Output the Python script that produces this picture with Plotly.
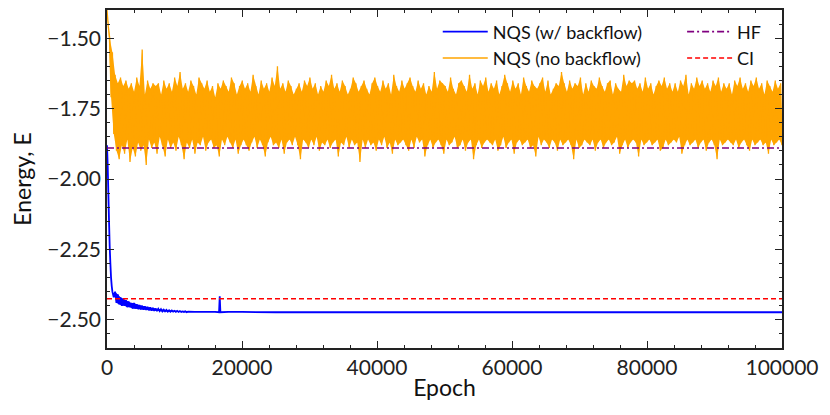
import numpy as np
import plotly.graph_objects as go

# ---------------- data ----------------
orange_energy = [
    -1.40, -1.46, -1.50, -1.71, -1.55, -1.84, -1.63, -1.90, -1.66, -1.93,
    -1.64, -1.88, -1.67, -1.91, -1.65, -1.86, -1.68, -1.94, -1.66, -1.89,
    -1.69, -1.92, -1.64, -1.87, -1.67, -1.90, -1.54, -1.88, -1.70, -1.95,
    -1.65, -1.86, -1.68, -1.89, -1.66, -1.87, -1.67, -1.91, -1.66, -1.85,
    -1.70, -1.88, -1.65, -1.92, -1.68, -1.86, -1.66, -1.89, -1.69, -1.87,
    -1.64, -1.90, -1.67, -1.85, -1.62, -1.88, -1.68, -1.93, -1.66, -1.87,
    -1.69, -1.89, -1.65, -1.86, -1.67, -1.91, -1.70, -1.87, -1.64, -1.88,
    -1.66, -1.85, -1.68, -1.90, -1.65, -1.87, -1.69, -1.86, -1.67, -1.89,
    -1.71, -1.88, -1.66, -1.92, -1.68, -1.86, -1.65, -1.88, -1.67, -1.85,
    -1.69, -1.87, -1.64, -1.89, -1.66, -1.86, -1.70, -1.91, -1.67, -1.88,
    -1.65, -1.86, -1.68, -1.88, -1.66, -1.90, -1.69, -1.87, -1.63, -1.85,
    -1.67, -1.89, -1.70, -1.86, -1.65, -1.88, -1.68, -1.92, -1.66, -1.87,
    -1.69, -1.85, -1.64, -1.88, -1.67, -1.87, -1.60, -1.89, -1.68, -1.86,
    -1.66, -1.91, -1.69, -1.87, -1.65, -1.86, -1.67, -1.88, -1.70, -1.85,
    -1.68, -1.88, -1.66, -1.93, -1.69, -1.86, -1.65, -1.87, -1.67, -1.89,
    -1.64, -1.86, -1.68, -1.88, -1.66, -1.85, -1.70, -1.90, -1.67, -1.87,
    -1.69, -1.88, -1.65, -1.86, -1.67, -1.89, -1.63, -1.87, -1.68, -1.86,
    -1.66, -1.92, -1.69, -1.87, -1.65, -1.88, -1.67, -1.85, -1.70, -1.89,
    -1.68, -1.86, -1.64, -1.88, -1.66, -1.87, -1.69, -1.94, -1.67, -1.86,
    -1.65, -1.89, -1.68, -1.86, -1.70, -1.88, -1.66, -1.87, -1.64, -1.90,
    -1.67, -1.86, -1.69, -1.88, -1.65, -1.85, -1.68, -1.89, -1.66, -1.87,
    -1.70, -1.91, -1.63, -1.86, -1.67, -1.88, -1.69, -1.87, -1.65, -1.86,
    -1.68, -1.88, -1.66, -1.90, -1.64, -1.86, -1.67, -1.89, -1.69, -1.85,
    -1.65, -1.87, -1.68, -1.86, -1.66, -1.92, -1.70, -1.88, -1.67, -1.86,
    -1.69, -1.89, -1.62, -1.87, -1.68, -1.86, -1.65, -1.88, -1.66, -1.91,
    -1.67, -1.86, -1.69, -1.88, -1.64, -1.87, -1.68, -1.85, -1.70, -1.89,
    -1.66, -1.88, -1.65, -1.86, -1.67, -1.90, -1.69, -1.87, -1.63, -1.86,
    -1.68, -1.93, -1.66, -1.88, -1.70, -1.86, -1.65, -1.89, -1.67, -1.87,
    -1.64, -1.86, -1.69, -1.87, -1.66, -1.88, -1.68, -1.86, -1.65, -1.90,
    -1.70, -1.88, -1.67, -1.85, -1.63, -1.89, -1.66, -1.87, -1.69, -1.86,
    -1.65, -1.91, -1.68, -1.87, -1.66, -1.86, -1.70, -1.88, -1.64, -1.87,
    -1.67, -1.86, -1.69, -1.89, -1.65, -1.88, -1.67, -1.92, -1.68, -1.85,
    -1.66, -1.88, -1.64, -1.86, -1.69, -1.87, -1.65, -1.89, -1.70, -1.86,
    -1.68, -1.87, -1.66, -1.90, -1.67, -1.86, -1.62, -1.88, -1.66, -1.87,
    -1.69, -1.86, -1.65, -1.88, -1.68, -1.93, -1.66, -1.86, -1.67, -1.89,
    -1.64, -1.88, -1.70, -1.86, -1.66, -1.87, -1.69, -1.88, -1.65, -1.86,
    -1.67, -1.90, -1.68, -1.87, -1.64, -1.86, -1.67, -1.89, -1.69, -1.87,
    -1.66, -1.86, -1.65, -1.88, -1.70, -1.87, -1.66, -1.85, -1.68, -1.91,
    -1.69, -1.88, -1.63, -1.86, -1.67, -1.89, -1.65, -1.87, -1.66, -1.86,
    -1.65, -1.87, -1.68, -1.92, -1.66, -1.86, -1.69, -1.88, -1.64, -1.87,
    -1.68, -1.86, -1.66, -1.88, -1.70, -1.87, -1.67, -1.86, -1.65, -1.90,
    -1.67, -1.89, -1.64, -1.86, -1.68, -1.88, -1.66, -1.87, -1.69, -1.86,
    -1.66, -1.87, -1.69, -1.85, -1.65, -1.91, -1.67, -1.88, -1.63, -1.86,
    -1.70, -1.88, -1.66, -1.87, -1.68, -1.86, -1.64, -1.89, -1.67, -1.87,
    -1.65, -1.86, -1.68, -1.90, -1.66, -1.87, -1.69, -1.86, -1.65, -1.88,
    -1.67, -1.93, -1.64, -1.86, -1.69, -1.88, -1.66, -1.87, -1.68, -1.86,
    -1.66, -1.87, -1.70, -1.88, -1.65, -1.86, -1.67, -1.89, -1.64, -1.87,
    -1.68, -1.86, -1.66, -1.88, -1.69, -1.90, -1.65, -1.86, -1.67, -1.88,
    -1.64, -1.87, -1.68, -1.86, -1.66, -1.88, -1.70, -1.87, -1.65, -1.91,
    -1.67, -1.86, -1.69, -1.88, -1.65, -1.87, -1.68, -1.86, -1.66, -1.88,
]

blue_epoch = [
    0, 100, 200, 300, 400, 500, 600, 700, 800, 900, 1000,
    1200, 1400, 1600, 1800, 2000, 2200, 2400, 2600, 2800, 3000,
    3200, 3400, 3600, 3800, 4000, 4200, 4400, 4600, 4800, 5000,
    5200, 5400, 5600, 5800, 6000, 6200, 6400, 6600, 6800, 7000,
    7200, 7400, 7600, 7800, 8000, 8200, 8400, 8600, 8800, 9000,
    9200, 9400, 9600, 9800, 10000, 10200, 10400, 10600, 10800, 11000,
    11200, 11400, 11600, 11800, 12000,
    13000, 14000, 15000, 16000, 16600, 16700, 16800, 18000, 20000,
    25000, 30000, 40000, 50000, 60000, 70000, 80000, 90000, 100000,
]
blue_energy = [
    -1.88, -1.95, -2.05, -2.15, -2.24, -2.30, -2.35, -2.38, -2.40, -2.41, -2.42,
    -2.40, -2.44, -2.41, -2.445, -2.42, -2.45, -2.425, -2.45, -2.43, -2.455,
    -2.435, -2.455, -2.44, -2.46, -2.44, -2.46, -2.445, -2.462, -2.447, -2.463,
    -2.45, -2.464, -2.452, -2.465, -2.454, -2.466, -2.456, -2.467, -2.458, -2.468,
    -2.46, -2.469, -2.461, -2.469, -2.462, -2.47, -2.464, -2.47, -2.465, -2.471,
    -2.466, -2.471, -2.467, -2.471, -2.468, -2.472, -2.468, -2.472, -2.469, -2.472,
    -2.47, -2.472, -2.47, -2.473, -2.471,
    -2.472, -2.472, -2.472, -2.472, -2.473, -2.416, -2.473, -2.472, -2.472,
    -2.473, -2.473, -2.473, -2.473, -2.473, -2.473, -2.473, -2.473, -2.473,
]

hf_energy = -1.890
ci_energy = -2.425
epoch_range = [0, 100000]

series_names = ["NQS (w/ backflow)", "NQS (no backflow)", "HF", "CI"]
y_tick_vals = [-2.50, -2.25, -2.00, -1.75, -1.50]
x_tick_vals = [0, 20000, 40000, 60000, 80000, 100000]

# ---------------- figure ----------------
orange_epoch = list(np.linspace(epoch_range[0], epoch_range[1], len(orange_energy)))


def oscillation_band(xs, ys, start, stop):
    """Polygon between the successive highs and lows of a rapidly
    oscillating stretch of a trace (indices start..stop-1)."""
    hx, hy = xs[start:stop:2], ys[start:stop:2]
    lx, ly = xs[start + 1:stop:2], ys[start + 1:stop:2]
    return list(hx) + list(lx)[::-1], list(hy) + list(ly)[::-1]


o_band_x, o_band_y = oscillation_band(orange_epoch, orange_energy, 0, len(orange_energy))
b_band_x, b_band_y = oscillation_band(blue_epoch, blue_energy, 11, 66)

SANS = "Lato"
ORANGE = "#ffa500"
BLUE = "#0000ff"

fig = go.Figure()
fig.add_trace(go.Scatter(
    x=b_band_x, y=b_band_y, mode="lines", fill="toself", fillcolor=BLUE,
    line=dict(width=0, color=BLUE), showlegend=False, hoverinfo="skip",
))
fig.add_trace(go.Scatter(
    x=blue_epoch, y=blue_energy, mode="lines", name=series_names[0],
    line=dict(color=BLUE, width=1.8, simplify=False), legend="legend",
))
fig.add_trace(go.Scatter(
    x=o_band_x, y=o_band_y, mode="lines", fill="toself", fillcolor=ORANGE,
    line=dict(width=0, color=ORANGE), showlegend=False, hoverinfo="skip",
))
fig.add_trace(go.Scatter(
    x=orange_epoch, y=orange_energy, mode="lines", name=series_names[1],
    line=dict(color=ORANGE, width=1.3, simplify=False), legend="legend",
))
fig.add_trace(go.Scatter(
    x=epoch_range, y=[hf_energy, hf_energy], mode="lines", name=series_names[2],
    line=dict(color="#800080", width=1.6, dash="7px,3px,2px,3px"), legend="legend2",
))
fig.add_trace(go.Scatter(
    x=epoch_range, y=[ci_energy, ci_energy], mode="lines", name=series_names[3],
    line=dict(color="#ff0000", width=1.6, dash="5px,3px"), legend="legend2",
))

axis_common = dict(
    showgrid=False, zeroline=False, showline=True, linecolor="#222222",
    linewidth=1.6, mirror="allticks", ticks="inside", ticklen=7, tickwidth=1,
    tickcolor="#222222",
    tickfont=dict(family=SANS, size=21, color="#222222"),
)

fig.update_xaxes(
    range=epoch_range, tickvals=x_tick_vals, tickformat="d",
    minor=dict(dtick=4000, tick0=0, ticks="inside", ticklen=3.5, tickwidth=1,
               tickcolor="#222222"),
    title=dict(text="Epoch", font=dict(family=SANS, size=23, color="#111111"),
               standoff=2),
    **axis_common,
)
fig.update_yaxes(
    range=[-2.6, -1.4], tickvals=y_tick_vals, tickformat=".2f",
    minor=dict(dtick=0.05, tick0=-1.5, ticks="inside", ticklen=3.5, tickwidth=1,
               tickcolor="#222222"),
    title=dict(text="Energy, E", font=dict(family=SANS, size=23, color="#111111"),
               standoff=23),
    **axis_common,
)

legend_common = dict(
    bgcolor="rgba(255,255,255,0)", borderwidth=0,
    font=dict(family=SANS, size=18, color="#111111"),
    yanchor="top", xanchor="left", orientation="v", itemwidth=45,
    tracegroupgap=4,
)
# page body adds an 8px offset, so the figure is sized to fit the 830x415 window
fig.update_layout(
    width=822, height=407,
    margin=dict(l=99, r=48, t=2, b=67, autoexpand=False),
    plot_bgcolor="white", paper_bgcolor="white",
    showlegend=True,
    legend=dict(x=0.49, y=0.99, **legend_common),
    legend2=dict(x=0.852, y=0.99, **legend_common),
)

fig.write_html("out.html")
